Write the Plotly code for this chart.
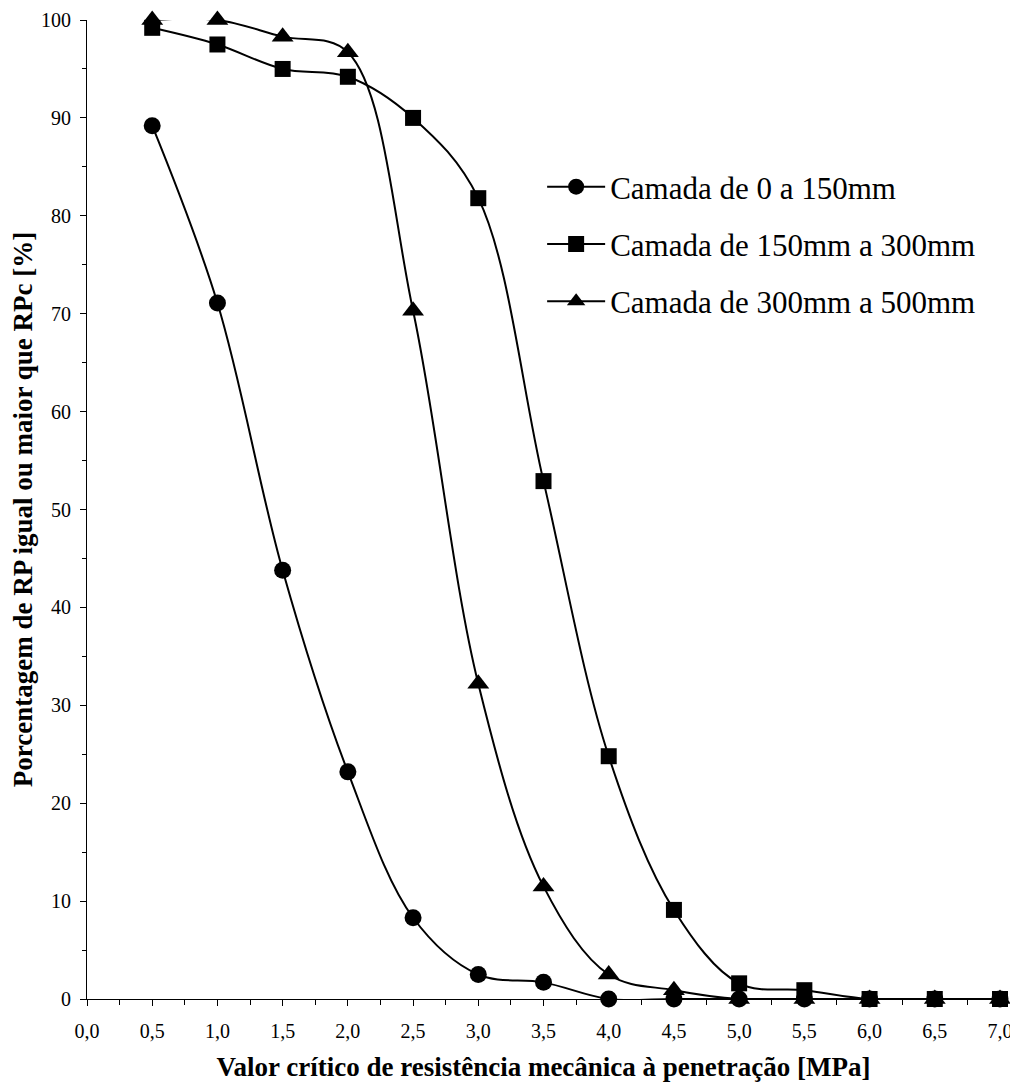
import plotly.graph_objects as go

x_vals = [0.5, 1.0, 1.5, 2.0, 2.5, 3.0, 3.5, 4.0, 4.5, 5.0, 5.5, 6.0, 6.5, 7.0]
camada_0_150 = [89.2, 71.1, 43.8, 23.2, 8.3, 2.5, 1.7, 0.0, 0.0, 0.0, 0.0, 0.0, 0.0, 0.0]
camada_150_300 = [99.2, 97.5, 95.0, 94.2, 90.0, 81.8, 52.9, 24.8, 9.1, 1.6, 0.9, 0.0, 0.0, 0.0]
camada_300_500 = [100.0, 100.0, 98.3, 96.7, 70.3, 32.2, 11.5, 2.5, 0.9, 0.0, 0.0, 0.0, 0.0, 0.0]

names = ["Camada de 0 a 150mm", "Camada de 150mm a 300mm", "Camada de 300mm a 500mm"]

FONT = "Liberation Serif, Times New Roman, serif"

fig = go.Figure()
# draw order: circles, triangles, squares (squares on top); legend order via legendrank
series = [
    (camada_0_150, names[0], "circle", 17, 1),
    (camada_300_500, names[2], "triangle-up", 19, 3),
    (camada_150_300, names[1], "square", 16, 2),
]
for ys, nm, sym, sz, rank in series:
    fig.add_trace(go.Scatter(
        x=x_vals, y=ys, name=nm, mode="lines+markers",
        line=dict(color="black", width=2, shape="spline", smoothing=1.0),
        marker=dict(symbol=sym, size=sz, color="black", line=dict(width=0)),
        cliponaxis=False, legendrank=rank, legendgroup=nm,
    ))

# page body has an 8px margin: figure is offset by (8, 8)
fig.update_layout(
    width=1010, height=1080,
    margin=dict(l=79, r=18, t=12, b=89),
    paper_bgcolor="white", plot_bgcolor="white",
    separators=",.",
    font=dict(family=FONT, size=20, color="black"),
    showlegend=True,
    legend=dict(
        x=0.4985, y=0.857, xanchor="left", yanchor="top",
        font=dict(family=FONT, size=31, color="black"),
        bgcolor="rgba(0,0,0,0)", borderwidth=0,
        tracegroupgap=14, itemwidth=58,
    ),
    xaxis=dict(
        range=[0, 7], tick0=0, dtick=0.5, tickformat=".1f",
        ticks="outside", ticklen=6, tickwidth=1, tickcolor="black",
        showline=True, linecolor="black", linewidth=1,
        showgrid=False, zeroline=False, automargin=False,
        ticklabelstandoff=8,
        tickfont=dict(family=FONT, size=20, color="black"),
        minor=dict(dtick=0.25, tick0=0, ticks="outside", ticklen=5, tickcolor="black", tickwidth=1, showgrid=False),
        title=dict(text="<b>Valor crítico de resistência mecânica à penetração [MPa]</b>",
                   font=dict(family=FONT, size=27, color="black"), standoff=16),
    ),
    yaxis=dict(
        range=[0, 100], tick0=0, dtick=10,
        ticks="outside", ticklen=6, tickwidth=1, tickcolor="black",
        showline=True, linecolor="black", linewidth=1,
        showgrid=False, zeroline=False, automargin=False,
        ticklabelstandoff=5,
        tickfont=dict(family=FONT, size=20, color="black"),
        minor=dict(dtick=5, tick0=0, ticks="outside", ticklen=4, tickcolor="black", tickwidth=1, showgrid=False),
        title=dict(text="<b>Porcentagem de RP igual ou maior que RPc [%]</b>",
                   font=dict(family=FONT, size=27, color="black"), standoff=8),
    ),
)

fig.write_html("out.html")
